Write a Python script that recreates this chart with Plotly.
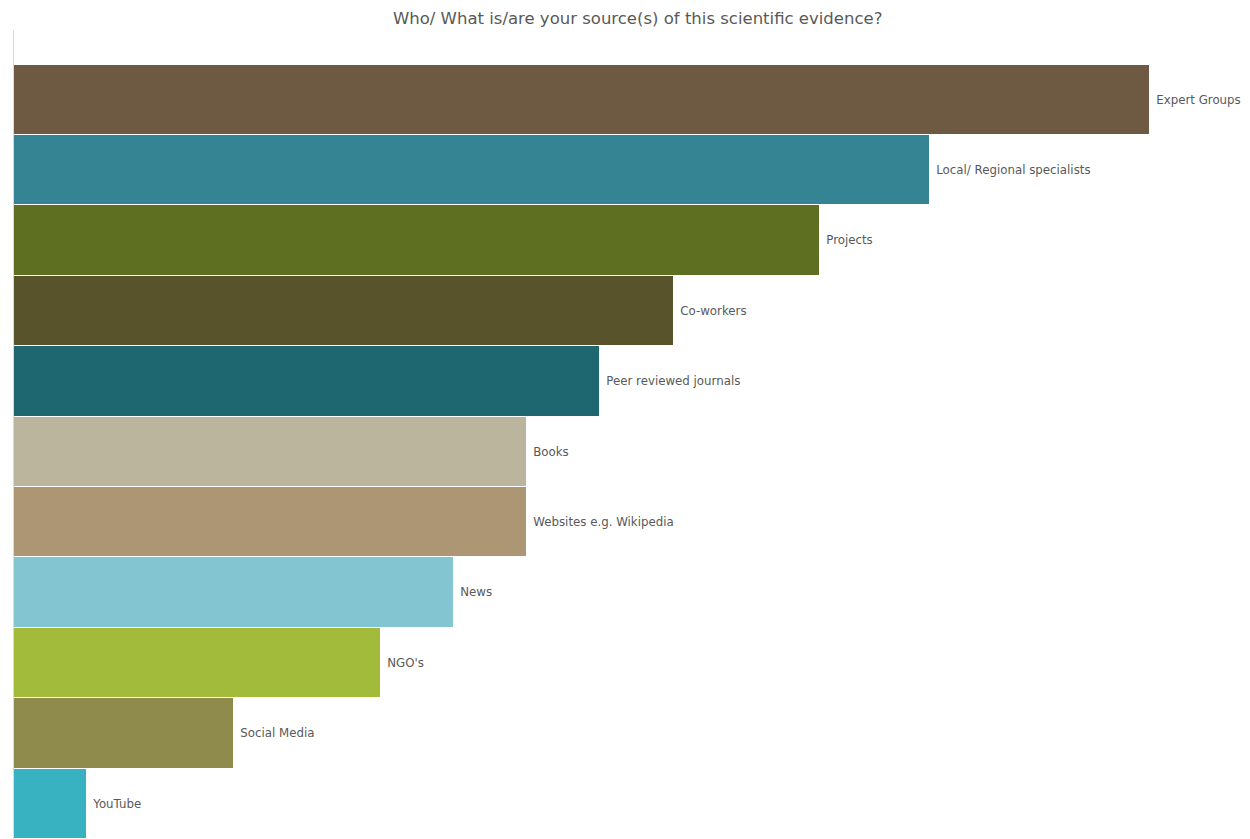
import plotly.graph_objects as go

categories = ["YouTube", "Social Media", "NGO's", "News", "Websites e.g. Wikipedia",
              "Books", "Peer reviewed journals", "Co-workers", "Projects",
              "Local/ Regional specialists", "Expert Groups"]
values = [2, 6, 10, 12, 14, 14, 16, 18, 22, 25, 31]
colors = ["#38B1C0", "#8E8B4C", "#A3BB3B", "#83C5D1", "#AD9674", "#BCB59D",
          "#1E6670", "#59532C", "#5F6F22", "#358494", "#6E5A42"]
title = "Who/ What is/are your source(s) of this scientific evidence?"

fig = go.Figure(go.Bar(
    y=categories, x=values, orientation="h",
    marker=dict(color=colors, line=dict(color="white", width=1)),
    text=[" " + c for c in categories], textposition="outside", cliponaxis=False,
    constraintext="none",
    textfont=dict(family="DejaVu Sans", size=11.8, color="#595959"),
    hoverinfo="skip",
))

fig.update_layout(
    width=1242, height=831,
    margin=dict(l=6, r=0, t=22, b=0),
    paper_bgcolor="white", plot_bgcolor="white",
    bargap=0,
    showlegend=False,
    title=dict(text=title, x=0.507, xanchor="center", y=0.988, yanchor="middle",
               font=dict(family="DejaVu Sans", size=16.5, color="#595959")),
    xaxis=dict(range=[0, 33.72], showgrid=False, zeroline=False,
               showticklabels=False, showline=False),
    yaxis=dict(range=[-0.5, 10.99], showgrid=False, zeroline=False,
               showticklabels=False, showline=True, linecolor="#D9D9D9",
               linewidth=1, type="category"),
)

fig.write_html("out.html")
